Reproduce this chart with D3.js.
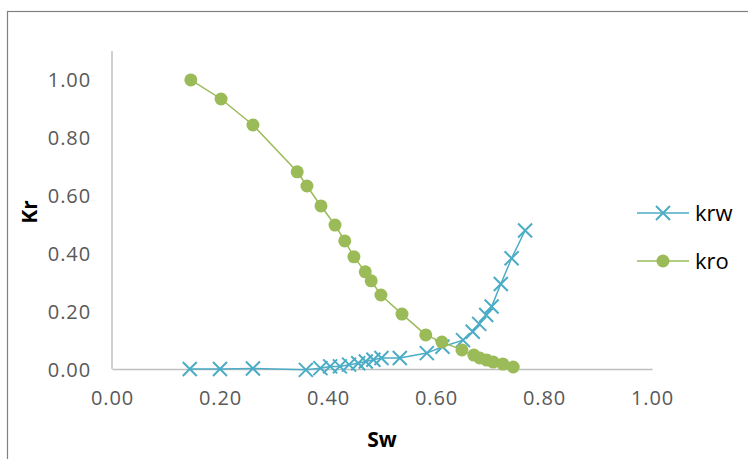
<!DOCTYPE html>
<html><head><meta charset="utf-8">
<script src="https://cdn.jsdelivr.net/npm/d3@7"></script>
<style>body{margin:0;background:#fff;}svg{display:block;}</style>
</head><body>
<script>
const krwSw = [0.144,0.200,0.261,0.359,0.386,0.404,0.422,0.439,0.456,0.470,0.484,0.499,0.533,0.583,0.612,0.650,0.668,0.680,0.693,0.703,0.720,0.740,0.765];
const krwKr = [0.000,0.000,0.002,-0.003,0.003,0.009,0.009,0.015,0.020,0.026,0.032,0.038,0.038,0.055,0.077,0.100,0.129,0.156,0.187,0.216,0.294,0.383,0.479];
const kroSw = [0.146,0.202,0.261,0.343,0.361,0.387,0.413,0.431,0.448,0.469,0.480,0.498,0.537,0.581,0.611,0.648,0.670,0.681,0.694,0.706,0.724,0.743];
const kroKr = [1.000,0.934,0.844,0.682,0.633,0.564,0.498,0.443,0.388,0.336,0.305,0.256,0.190,0.118,0.093,0.066,0.048,0.038,0.031,0.024,0.017,0.007];
const xTicks = [0,0.2,0.4,0.6,0.8,1.0];
const yTicks = [0,0.2,0.4,0.6,0.8,1.0];
const seriesNames = ["krw","kro"];

const W=748,H=459;
const svg=d3.select("body").append("svg").attr("width",W).attr("height",H);
svg.append("rect").attr("x",7.5).attr("y",11.5).attr("width",W).attr("height",H).attr("fill","#fff").attr("stroke","#808080").attr("stroke-width",1.2);

const x=d3.scaleLinear().domain([0,1]).range([112,652]);
const y=d3.scaleLinear().domain([0,1.1]).range([369,51]);
const font="'Open Sans', sans-serif";

// axes
const xa=svg.append("g").attr("transform","translate(0,369)").call(d3.axisBottom(x).tickValues(xTicks).tickSize(0).tickPadding(22).tickFormat(d3.format(".2f")));
const ya=svg.append("g").attr("transform","translate(112,0)").call(d3.axisLeft(y).tickValues(yTicks).tickSize(0).tickPadding(21).tickFormat(d3.format(".2f")));
[xa,ya].forEach(g=>{
  g.select(".domain").attr("stroke","#bfbfbf").attr("stroke-width",1.5);
  g.selectAll("text").attr("font-family",font).attr("font-size",20).attr("letter-spacing","0.9px").attr("fill","#595959");
});
ya.select(".domain").attr("d","M0,51V369");
ya.selectAll("text").attr("dy","0.35em");

svg.append("text").attr("x",382).attr("y",447).attr("text-anchor","middle").attr("font-family",font).attr("font-weight","bold").attr("font-size",21).attr("fill","#000").text("Sw");
svg.append("text").attr("transform","translate(37,212) rotate(-90)").attr("text-anchor","middle").attr("font-family",font).attr("font-weight","bold").attr("font-size",21).attr("fill","#000").text("Kr");

const blue="#4BACC6", green="#9BBB59";
const krw=krwSw.map((v,i)=>[v,krwKr[i]]);
const kro=kroSw.map((v,i)=>[v,kroKr[i]]);
const line=d3.line().x(d=>x(d[0])).y(d=>y(d[1]));

function xMark(g,cx,cy){
  const s=7;
  g.append("path").attr("d",`M${cx-s},${cy-s}L${cx+s},${cy+s}M${cx-s},${cy+s}L${cx+s},${cy-s}`).attr("stroke",blue).attr("stroke-width",2).attr("fill","none");
}

svg.append("path").datum(krw).attr("d",line).attr("fill","none").attr("stroke",blue).attr("stroke-width",1.5);
const gk=svg.append("g");
krw.forEach(d=>xMark(gk,x(d[0]),y(d[1])));

svg.append("path").datum(kro).attr("d",line).attr("fill","none").attr("stroke",green).attr("stroke-width",1.5);
svg.append("g").selectAll("circle").data(kro).join("circle").attr("cx",d=>x(d[0])).attr("cy",d=>y(d[1])).attr("r",6.5).attr("fill",green);

// legend
const lg=svg.append("g");
[[213,0],[261,1]].forEach(([ly,i])=>{
  lg.append("line").attr("x1",637).attr("x2",689).attr("y1",ly).attr("y2",ly).attr("stroke",i?green:blue).attr("stroke-width",1.5);
  if(i) lg.append("circle").attr("cx",663).attr("cy",ly).attr("r",6.5).attr("fill",green);
  else xMark(lg,663,ly);
  lg.append("text").attr("x",695).attr("y",ly).attr("dy","0.35em").attr("font-family",font).attr("font-size",22).attr("fill","#000").text(seriesNames[i]);
});
</script>
</body></html>
